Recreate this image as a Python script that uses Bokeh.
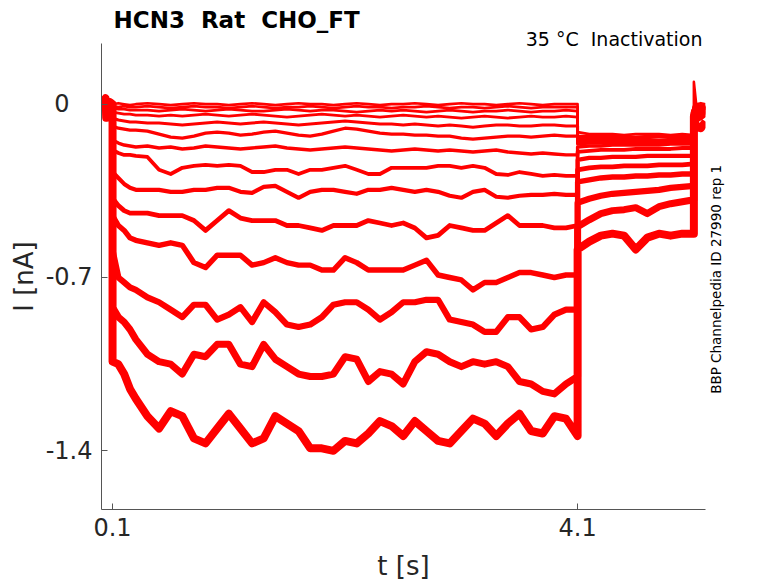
import math
from bokeh.plotting import figure
from bokeh.models import Range1d, FixedTicker, Title, LinearAxis
from bokeh.embed import file_html
from bokeh.resources import INLINE

# ---------------- data ----------------
BASE_T = [0.0, 0.02, 0.04, 0.046, 0.05, 0.07, 0.09, 0.1]
BASE_I = [0.004, 0.008, 0.024, -0.055, 0.004, 0.010, 0.004, 0.0]

PRE_T = [0.10, 0.15, 0.20, 0.25, 0.30, 0.4, 0.5, 0.6, 0.7, 0.8, 0.9, 1.0,
         1.1, 1.2, 1.3, 1.4, 1.5, 1.6, 1.7, 1.8, 1.9, 2.0, 2.1, 2.2, 2.3,
         2.4, 2.5, 2.6, 2.7, 2.8, 2.9, 3.0, 3.1, 3.2, 3.3, 3.4, 3.5, 3.6,
         3.7, 3.8, 3.9, 4.0, 4.1]
TEST_T = [4.1, 4.2, 4.3, 4.4, 4.5, 4.6, 4.7, 4.8, 4.9, 5.0, 5.1]
POST_T = [5.1, 5.12, 5.16, 5.2]

PRE_0 = [0.000, 0.004, 0.000, -0.004, 0.000, 0.004, 0.000, -0.004, 0.000, 0.004, 0.000,
         0.000, -0.004, 0.000, 0.004, 0.000, -0.004, 0.000, 0.004, 0.000, 0.000, -0.004,
         0.000, 0.004, 0.000, -0.004, 0.000, 0.000, 0.004, 0.000, -0.004, 0.000, 0.004,
         0.000, 0.000, -0.004, 0.000, 0.004, 0.000, -0.004, 0.000, 0.000, 0.000]
PRE_1 = [-0.008, -0.012, -0.008, -0.012, -0.012, -0.008, -0.012, -0.016, -0.012, -0.008,
         -0.012, -0.012, -0.016, -0.012, -0.008, -0.012, -0.016, -0.012, -0.012, -0.008,
         -0.012, -0.016, -0.012, -0.008, -0.012, -0.012, -0.016, -0.012, -0.012, -0.008,
         -0.012, -0.016, -0.012, -0.012, -0.016, -0.012, -0.008, -0.012, -0.016, -0.012,
         -0.012, -0.012, -0.012]
PRE_2 = [-0.016, -0.020, -0.020, -0.024, -0.024, -0.024, -0.028, -0.024, -0.020, -0.024,
         -0.028, -0.024, -0.020, -0.024, -0.028, -0.028, -0.024, -0.020, -0.024, -0.028,
         -0.024, -0.024, -0.028, -0.032, -0.028, -0.024, -0.028, -0.024, -0.028, -0.032,
         -0.028, -0.024, -0.028, -0.032, -0.028, -0.028, -0.024, -0.028, -0.032, -0.028,
         -0.028, -0.024, -0.028]
PRE_3 = [-0.032, -0.036, -0.040, -0.040, -0.044, -0.044, -0.048, -0.044, -0.048, -0.044,
         -0.040, -0.044, -0.048, -0.044, -0.040, -0.044, -0.048, -0.052, -0.048, -0.044,
         -0.040, -0.044, -0.048, -0.044, -0.048, -0.052, -0.048, -0.044, -0.048, -0.052,
         -0.048, -0.052, -0.056, -0.052, -0.048, -0.052, -0.056, -0.052, -0.048, -0.052,
         -0.052, -0.048, -0.052]
PRE_4 = [-0.056, -0.064, -0.068, -0.072, -0.072, -0.076, -0.076, -0.080, -0.084, -0.080,
         -0.076, -0.072, -0.076, -0.080, -0.076, -0.072, -0.076, -0.080, -0.084, -0.080,
         -0.076, -0.072, -0.068, -0.072, -0.076, -0.080, -0.080, -0.084, -0.080, -0.084,
         -0.088, -0.084, -0.088, -0.093, -0.088, -0.084, -0.084, -0.088, -0.088, -0.084,
         -0.084, -0.088, -0.088]
PRE_5 = [-0.088, -0.097, -0.101, -0.105, -0.105, -0.109, -0.121, -0.133, -0.137, -0.129,
         -0.117, -0.113, -0.117, -0.125, -0.121, -0.113, -0.109, -0.117, -0.125, -0.129,
         -0.121, -0.109, -0.097, -0.101, -0.109, -0.117, -0.121, -0.121, -0.125, -0.125,
         -0.129, -0.129, -0.137, -0.141, -0.137, -0.133, -0.129, -0.129, -0.133, -0.129,
         -0.125, -0.129, -0.129]
PRE_6 = [-0.145, -0.157, -0.165, -0.169, -0.173, -0.169, -0.177, -0.173, -0.181, -0.177,
         -0.169, -0.173, -0.177, -0.181, -0.177, -0.173, -0.169, -0.177, -0.181, -0.185,
         -0.181, -0.177, -0.173, -0.177, -0.181, -0.185, -0.189, -0.185, -0.181, -0.185,
         -0.189, -0.185, -0.189, -0.193, -0.189, -0.185, -0.193, -0.197, -0.201, -0.197,
         -0.201, -0.205, -0.205]
PRE_7 = [-0.185, -0.197, -0.205, -0.205, -0.209, -0.213, -0.265, -0.282, -0.257, -0.249,
         -0.245, -0.249, -0.245, -0.249, -0.274, -0.274, -0.265, -0.265, -0.282, -0.265,
         -0.265, -0.257, -0.249, -0.265, -0.282, -0.282, -0.257, -0.257, -0.257, -0.257,
         -0.249, -0.249, -0.257, -0.249, -0.257, -0.282, -0.286, -0.274, -0.282, -0.290,
         -0.286, -0.290, -0.290]
PRE_8 = [-0.274, -0.298, -0.322, -0.338, -0.346, -0.346, -0.346, -0.354, -0.354, -0.346,
         -0.346, -0.338, -0.338, -0.354, -0.358, -0.334, -0.330, -0.354, -0.378, -0.354,
         -0.346, -0.346, -0.354, -0.362, -0.346, -0.346, -0.338, -0.346, -0.354, -0.346,
         -0.354, -0.370, -0.378, -0.354, -0.346, -0.374, -0.378, -0.370, -0.366, -0.366,
         -0.362, -0.366, -0.366]
PRE_9 = [-0.38, -0.41, -0.43, -0.44, -0.44, -0.44, -0.45, -0.45, -0.45, -0.47, -0.51,
         -0.47, -0.43, -0.46, -0.47, -0.47, -0.47, -0.49, -0.49, -0.50, -0.51, -0.49,
         -0.49, -0.49, -0.47, -0.48, -0.49, -0.48, -0.50, -0.54, -0.53, -0.49, -0.50,
         -0.51, -0.51, -0.48, -0.45, -0.49, -0.49, -0.49, -0.50, -0.50, -0.49]
PRE_10 = [-0.45, -0.49, -0.51, -0.54, -0.55, -0.56, -0.57, -0.56, -0.57, -0.64, -0.66,
          -0.61, -0.61, -0.61, -0.65, -0.64, -0.62, -0.64, -0.65, -0.65, -0.67, -0.67,
          -0.62, -0.64, -0.67, -0.67, -0.67, -0.67, -0.65, -0.63, -0.69, -0.70, -0.71,
          -0.75, -0.72, -0.72, -0.70, -0.68, -0.68, -0.69, -0.70, -0.69, -0.69]
PRE_11 = [-0.59, -0.70, -0.72, -0.74, -0.75, -0.78, -0.80, -0.83, -0.86, -0.81, -0.81,
          -0.87, -0.85, -0.82, -0.88, -0.80, -0.84, -0.89, -0.90, -0.89, -0.86, -0.81,
          -0.80, -0.80, -0.83, -0.87, -0.84, -0.80, -0.80, -0.79, -0.79, -0.87, -0.88,
          -0.89, -0.92, -0.92, -0.86, -0.86, -0.91, -0.90, -0.85, -0.83, -0.83]
PRE_12 = [-0.82, -0.86, -0.88, -0.91, -0.95, -1.01, -1.04, -1.05, -1.09, -1.01, -1.02,
          -0.97, -0.97, -1.05, -1.06, -0.97, -1.03, -1.06, -1.09, -1.10, -1.10, -1.09,
          -1.02, -1.03, -1.12, -1.08, -1.09, -1.13, -1.04, -1.00, -1.01, -1.04, -1.06,
          -1.04, -1.05, -1.04, -1.06, -1.12, -1.13, -1.16, -1.17, -1.13, -1.10]
PRE_13 = [-1.04, -1.05, -1.09, -1.15, -1.19, -1.26, -1.31, -1.24, -1.26, -1.35, -1.37,
          -1.31, -1.25, -1.31, -1.37, -1.35, -1.26, -1.29, -1.32, -1.39, -1.39, -1.40,
          -1.36, -1.37, -1.33, -1.28, -1.30, -1.34, -1.28, -1.32, -1.36, -1.37, -1.32,
          -1.27, -1.29, -1.34, -1.29, -1.25, -1.32, -1.33, -1.26, -1.27, -1.34]

TEST_0 = [-0.113, -0.121, -0.121, -0.121, -0.125, -0.121, -0.121, -0.121, -0.125, -0.121, -0.125]
TEST_1 = [-0.129, -0.129, -0.129, -0.129, -0.129, -0.133, -0.129, -0.129, -0.129, -0.129, -0.133]
TEST_2 = [-0.137, -0.133, -0.133, -0.133, -0.137, -0.133, -0.133, -0.133, -0.133, -0.137, -0.137]
TEST_3 = [-0.145, -0.141, -0.141, -0.141, -0.141, -0.141, -0.141, -0.145, -0.141, -0.141, -0.141]
TEST_4 = [-0.153, -0.149, -0.149, -0.149, -0.149, -0.149, -0.149, -0.149, -0.149, -0.149, -0.149]
TEST_5 = [-0.161, -0.157, -0.157, -0.157, -0.157, -0.157, -0.157, -0.153, -0.157, -0.157, -0.157]
TEST_6 = [-0.173, -0.169, -0.169, -0.165, -0.165, -0.165, -0.165, -0.165, -0.161, -0.161, -0.161]
TEST_7 = [-0.193, -0.189, -0.185, -0.185, -0.185, -0.181, -0.181, -0.181, -0.181, -0.177, -0.177]
TEST_8 = [-0.225, -0.217, -0.217, -0.213, -0.213, -0.213, -0.209, -0.209, -0.209, -0.209, -0.209]
TEST_9 = [-0.265, -0.257, -0.253, -0.253, -0.249, -0.249, -0.249, -0.245, -0.245, -0.245, -0.241]
TEST_10 = [-0.314, -0.306, -0.298, -0.294, -0.294, -0.290, -0.290, -0.286, -0.286, -0.282, -0.282]
TEST_11 = [-0.398, -0.382, -0.370, -0.362, -0.358, -0.354, -0.350, -0.346, -0.338, -0.334, -0.330]
TEST_12 = [-0.495, -0.467, -0.442, -0.430, -0.426, -0.418, -0.442, -0.414, -0.402, -0.394, -0.386]
TEST_13 = [-0.587, -0.555, -0.531, -0.523, -0.531, -0.587, -0.539, -0.523, -0.531, -0.523, -0.523]

POST_0 = [0.090, 0.000, 0.004, 0.000]
POST_1 = [-0.008, -0.008, -0.004, -0.008]
POST_2 = [-0.012, -0.012, -0.008, -0.012]
POST_3 = [-0.012, -0.016, -0.012, -0.012]
POST_4 = [-0.016, -0.016, -0.012, -0.016]
POST_5 = [-0.016, -0.020, -0.016, -0.016]
POST_6 = [-0.020, -0.020, -0.016, -0.016]
POST_7 = [-0.020, -0.024, -0.020, -0.016]
POST_8 = [-0.024, -0.024, -0.020, -0.020]
POST_9 = [-0.024, -0.028, -0.024, -0.020]
POST_10 = [-0.028, -0.032, -0.028, -0.024]
POST_11 = [-0.032, -0.040, -0.036, -0.028]
POST_12 = [-0.040, -0.060, -0.050, -0.036]
POST_13 = [-0.050, -0.090, -0.097, -0.070]

X_TICKS = [0.1, 4.1]
X_LABELS = ["0.1", "4.1"]
Y_TICKS = [-1.4, -0.7, 0.0]
Y_LABELS = ["-1.4", "-0.7", "0\u00a0\u00a0\u00a0"]

NB = "\u00a0"
TITLE = "HCN3" + NB + " Rat" + NB + " CHO_FT"
SUBTITLE = "35 °C" + NB + " Inactivation"
SIDE_NOTE = "BBP Channelpedia ID 27990 rep 1"
SIDE_NOTE_START = -1.17   # y where the vertical note begins (it reads upward)
X_LABEL = "t [s]"
Y_LABEL = "I [nA]"

PRE = [PRE_0, PRE_1, PRE_2, PRE_3, PRE_4, PRE_5, PRE_6, PRE_7, PRE_8, PRE_9,
       PRE_10, PRE_11, PRE_12, PRE_13]
TEST = [TEST_0, TEST_1, TEST_2, TEST_3, TEST_4, TEST_5, TEST_6, TEST_7, TEST_8,
        TEST_9, TEST_10, TEST_11, TEST_12, TEST_13]
POST = [POST_0, POST_1, POST_2, POST_3, POST_4, POST_5, POST_6, POST_7, POST_8,
        POST_9, POST_10, POST_11, POST_12, POST_13]

# ---------------- figure ----------------
FONT = "DejaVu Sans"
AX = "#555555"
TXT = "#262626"

p = figure(width=778, height=583, output_backend="svg", toolbar_location=None,
           x_range=Range1d(0.005, 5.2), y_range=Range1d(-1.637, 0.245),
           min_border_left=101, min_border_right=73, min_border_top=43,
           min_border_bottom=72)
p.outline_line_color = None
p.grid.visible = False
p.background_fill_color = "white"
p.border_fill_color = "white"

# main title (outer, left) and subtitle (next to the frame, right)
p.title.text = TITLE
p.title.align = "left"
p.title.offset = 12
p.title.text_font = FONT
p.title.text_font_size = "23px"
p.title.text_font_style = "bold"
p.title.text_color = "black"
p.title.standoff = -3
p.add_layout(Title(text=SUBTITLE, align="right", offset=3, text_font=FONT,
                   text_font_size="19px", text_font_style="normal",
                   text_color="black", standoff=-12), "above")

WIDTHS = [2.6, 2.6, 2.6, 2.8, 3.0, 3.2, 3.4, 3.8, 4.2, 4.8, 5.4, 6.2, 7.0, 8.0]
for i in range(len(PRE)):
    xs = BASE_T + PRE_T + TEST_T + POST_T
    ys = BASE_I + PRE[i] + TEST[i] + POST[i]
    n = min(len(xs), len(ys))
    p.line(xs[:n], ys[:n], line_color="#ff0000", line_width=WIDTHS[i],
           line_join="round")

for ax in (p.xaxis[0], p.yaxis[0]):
    ax.axis_line_color = AX
    ax.axis_line_width = 1
    ax.major_tick_line_color = AX
    ax.major_tick_in = 6
    ax.major_tick_out = 0
    ax.minor_tick_line_color = None
    ax.major_label_text_font = FONT
    ax.major_label_text_font_size = "24px"
    ax.major_label_text_color = TXT
    ax.axis_label_text_font = FONT
    ax.axis_label_text_font_size = "26px"
    ax.axis_label_text_font_style = "normal"
    ax.axis_label_text_color = TXT

p.xaxis.ticker = FixedTicker(ticks=X_TICKS)
p.xaxis.major_label_overrides = dict(zip(X_TICKS, X_LABELS))
p.xaxis.major_label_standoff = 8
p.xaxis.axis_label = X_LABEL
p.xaxis.axis_label_standoff = 12

p.yaxis.ticker = FixedTicker(ticks=Y_TICKS)
p.yaxis.major_label_overrides = dict(zip(Y_TICKS, Y_LABELS))
p.yaxis.major_label_standoff = 9
p.yaxis.axis_label = Y_LABEL
p.yaxis.axis_label_standoff = 4

# side note on the right as the single label of an unlined right axis
side = LinearAxis(ticker=FixedTicker(ticks=[SIDE_NOTE_START]),
                  major_label_overrides={SIDE_NOTE_START: SIDE_NOTE},
                  major_label_orientation=math.pi / 2,
                  major_label_text_font=FONT, major_label_text_font_size="13.5px",
                  major_label_text_color="black", major_label_standoff=11,
                  axis_line_color=None, major_tick_line_color=None,
                  minor_tick_line_color=None, major_tick_in=0, major_tick_out=0)
p.add_layout(side, "right")

open("out.html", "w").write(file_html(p, INLINE))
